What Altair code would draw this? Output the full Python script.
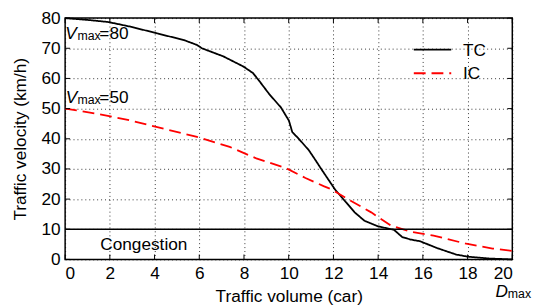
import altair as alt
import pandas as pd

# Traffic curves
tc_x = [0, 0.5, 1.0, 1.94, 2.96, 4.14, 5.32, 5.9, 6.12, 7.08, 7.96, 8.4, 8.69, 9.13, 9.65, 10.01,
        10.16, 10.45, 10.9, 11.19, 11.48, 11.78, 12.07, 12.51, 12.95, 13.39, 13.98, 14.71, 15.08,
        15.45, 15.89, 16.62, 17.5, 18.02, 18.97, 20.0]
tc_y = [80, 79.7, 79.4, 78.7, 77.1, 74.9, 72.7, 71.1, 70.0, 67.3, 64.0, 61.8, 59.1, 54.8, 50.4, 46.0,
        42.2, 40.0, 36.2, 33.0, 29.7, 26.4, 23.2, 19.4, 15.6, 12.8, 11.0, 9.8, 7.4,
        6.6, 6.0, 3.8, 1.6, 0.9, 0.3, 0.0]
ic_x = [0, 1.5, 2.96, 4.44, 5.9, 7.36, 8.55, 9.87, 10.75, 11.56, 11.92, 12.66, 13.69, 14.57,
        15.45, 16.48, 17.94, 19.12, 20.0]
ic_y = [50.0, 48.2, 46.0, 43.3, 40.6, 37.3, 33.5, 30.3, 27.0, 24.3, 23.2, 19.9, 15.6, 11.2,
        9.2, 7.9, 5.2, 3.6, 2.8]
series = ["TC", "IC"]
colors = ["#000000", "#ff0000"]
dashes = [[1, 0], [12, 6]]
x_ticks = list(range(0, 21, 2))
y_ticks = list(range(0, 81, 10))
congestion_level = 10

W, H = 454, 245
FONT = "Liberation Sans"
FS = 17.5
SUB = 12.5

df = pd.concat([
    pd.DataFrame({"x": tc_x, "y": tc_y, "s": "TC"}),
    pd.DataFrame({"x": ic_x, "y": ic_y, "s": "IC"}),
])

xs = alt.Scale(domain=[0, 20], nice=False, zero=False)
ys = alt.Scale(domain=[0, 80], nice=False, zero=False)
x_axis = alt.Axis(values=x_ticks, title="Traffic volume (car)", grid=True, format="d",
                  labelOverlap=False)
y_axis = alt.Axis(values=y_ticks, title="Traffic velocity (km/h)", grid=True, format="d",
                  labelOverlap=False)


def X(field):
    return alt.X(field, scale=xs, axis=x_axis)


def Y(field):
    return alt.Y(field, scale=ys, axis=y_axis)


lines = alt.Chart(df).mark_line(strokeWidth=1.8).encode(
    x=X("x:Q"),
    y=Y("y:Q"),
    color=alt.Color("s:N", scale=alt.Scale(domain=series, range=colors), legend=None),
    strokeDash=alt.StrokeDash("s:N", scale=alt.Scale(domain=series, range=dashes), legend=None),
    order="x:Q",
)

# legend (drawn as marks so the row spacing matches)
legend_parts = []
for i, name in enumerate(series):
    yy = 32 + 24 * i
    one = pd.DataFrame({"s": [name]})
    legend_parts.append(alt.Chart(one).mark_rule(
        color=colors[i], strokeDash=dashes[i], strokeWidth=2).encode(
        x=alt.value(354), x2=alt.value(392), y=alt.value(yy)))
    legend_parts.append(alt.Chart(one).mark_text(
        font=FONT, fontSize=FS, align="left", baseline="middle", color="black", dy=1).encode(
        x=alt.value(404), y=alt.value(yy), text="s:N"))
legend = alt.layer(*legend_parts)

hline = alt.Chart(pd.DataFrame({"v": [congestion_level]})).mark_rule(
    color="black", strokeWidth=1.5).encode(y=Y("v:Q"))

tx = pd.DataFrame({"t": x_ticks})
ty = pd.DataFrame({"t": y_ticks})
tick_style = dict(color="black", strokeWidth=1)
ticks = alt.layer(
    alt.Chart(tx).mark_rule(**tick_style).encode(x=X("t:Q"), y=alt.value(H), y2=alt.value(H - 5)),
    alt.Chart(tx).mark_rule(**tick_style).encode(x=X("t:Q"), y=alt.value(0), y2=alt.value(5)),
    alt.Chart(ty).mark_rule(**tick_style).encode(y=Y("t:Q"), x=alt.value(0), x2=alt.value(5)),
    alt.Chart(ty).mark_rule(**tick_style).encode(y=Y("t:Q"), x=alt.value(W), x2=alt.value(W - 5)),
)


def label(text, x, y, size=FS, style="normal", align="left"):
    return alt.Chart(pd.DataFrame({"x": [x], "y": [y], "t": [text]})).mark_text(
        font=FONT, fontSize=size, fontStyle=style, align=align, baseline="alphabetic",
        color="black").encode(x=X("x:Q"), y=Y("y:Q"), text="t:N")


labels = alt.layer(
    label("V", 0.0, 73.1, style="italic"),
    label("max", 0.55, 72.6, size=SUB),
    label("=80", 1.53, 73.1),
    label("V", 0.03, 52.0, style="italic"),
    label("max", 0.55, 51.5, size=SUB),
    label("=50", 1.53, 52.0),
    label("Congestion", 3.52, 3.0, align="center"),
    label("D", 19.25, -12.4, style="italic"),
    label("max", 19.8, -12.9, size=SUB),
)

chart = alt.layer(lines, hline, ticks, labels, legend).properties(
    width=W, height=H,
    autosize=alt.AutoSizeParams(type="none"),
    padding={"left": 58, "top": 8, "right": 20, "bottom": 44},
).configure_view(stroke="black", strokeWidth=1.5).configure_axis(
    domain=False, ticks=False, labelFont=FONT, labelFontSize=FS, labelColor="black",
    titleFont=FONT, titleFontSize=FS, titleFontWeight="normal", titleColor="black",
    gridColor="black", gridDash=[1, 3], gridOpacity=0.8, gridWidth=1,
).configure_axisX(labelPadding=5, titlePadding=6).configure_axisY(labelPadding=5, titlePadding=12)

chart.save("out.html", embed_options={"renderer": "svg", "actions": False})
